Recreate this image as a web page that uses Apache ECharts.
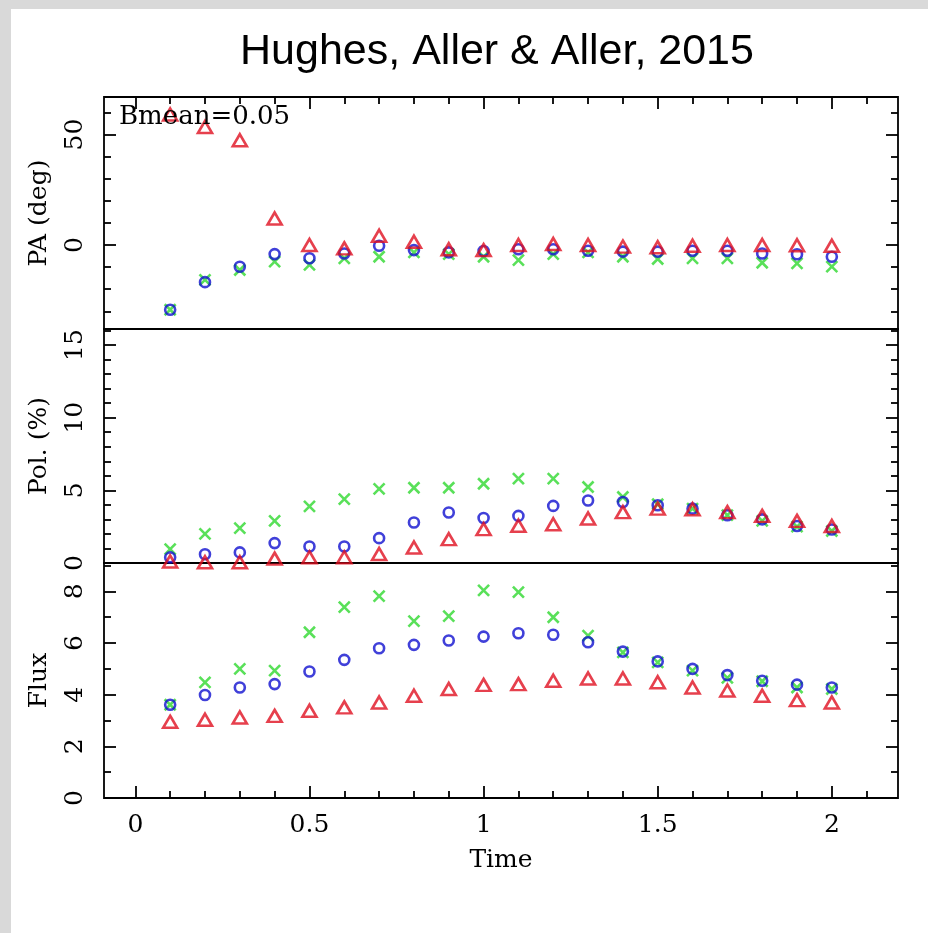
<!DOCTYPE html>
<html><head><meta charset="utf-8">
<script src="https://cdn.jsdelivr.net/npm/echarts@6/dist/echarts.min.js"></script>
<style>html,body{margin:0;padding:0;background:#fff;} #c{width:928px;height:933px;}</style>
</head><body><div id="c"></div>
<script>
// ---- data ----
const time = [0.1,0.2,0.3,0.4,0.5,0.6,0.7,0.8,0.9,1.0,1.1,1.2,1.3,1.4,1.5,1.6,1.7,1.8,1.9,2.0];

const paRed   = [59.1,53.4,47.4,12.0,0.0,-1.5,4.2,1.5,-1.9,-2.3,0.0,0.5,0.0,-0.7,-1.0,-0.3,0.0,0.0,-0.1,-0.3];
const paBlue  = [-29.3,-16.8,-9.8,-4.1,-6.0,-3.8,-0.3,-2.3,-3.3,-2.7,-1.9,-1.9,-2.6,-3.0,-3.0,-2.6,-2.6,-3.8,-4.2,-5.3];
const paGreen = [-29.3,-15.8,-11.3,-7.5,-9.0,-6.0,-5.3,-3.3,-4.1,-5.3,-6.8,-4.1,-3.3,-5.3,-6.3,-6.0,-6.0,-8.0,-8.3,-9.8];

const polRed   = [0.1,0.05,0.05,0.3,0.39,0.39,0.62,1.07,1.64,2.33,2.56,2.67,3.06,3.5,3.74,3.7,3.5,3.24,2.9,2.55];
const polBlue  = [0.39,0.6,0.73,1.37,1.14,1.14,1.71,2.79,3.47,3.1,3.24,3.93,4.3,4.2,3.97,3.74,3.29,3.0,2.55,2.3];
const polGreen = [0.96,2.0,2.4,2.9,3.9,4.4,5.1,5.18,5.18,5.45,5.8,5.8,5.23,4.54,4.04,3.74,3.29,2.9,2.5,2.2];

const fluxRed   = [2.95,3.03,3.12,3.18,3.38,3.51,3.7,3.96,4.22,4.38,4.41,4.54,4.63,4.63,4.48,4.28,4.16,3.96,3.79,3.7];
const fluxBlue  = [3.61,3.99,4.28,4.41,4.9,5.35,5.8,5.93,6.1,6.25,6.38,6.32,6.03,5.67,5.29,5.0,4.76,4.54,4.39,4.28];
const fluxGreen = [3.61,4.48,5.0,4.93,6.42,7.39,7.82,6.85,7.04,8.04,7.97,7.0,6.29,5.64,5.25,4.93,4.65,4.52,4.28,4.22];

// ---- ticks ----
const xMajorTicks = [0,0.5,1,1.5,2];
const xMinorTicks = [0.1,0.2,0.3,0.4,0.6,0.7,0.8,0.9,1.1,1.2,1.3,1.4,1.6,1.7,1.8,1.9,2.1];
const paMajorTicks = [0,50];
const paMinorTicks = [-30,-20,-10,10,20,30,40,60];
const polMajorTicks = [0,5,10,15];
const polMinorTicks = [1,2,3,4,6,7,8,9,11,12,13,14,16];
const fluxMajorTicks = [0,2,4,6,8];
const fluxMinorTicks = [1,3,5,7,9];

const titleText = 'Hughes, Aller & Aller, 2015';
const noteText = 'Bmean=0.05';
const xName = 'Time';
const yNames = ['PA (deg)', 'Pol. (%)', 'Flux'];

// ---- styling ----
const SERIF = 'DejaVu Serif';
const FS = 25;
const RED = '#e01020', BLUE = '#1010d0', GREEN = '#2fd82f';
const X_MIN = -0.09, X_MAX = 2.19;
const yRanges = [[-38, 67], [0, 16.1], [0, 9.1]];
const yMajor = [paMajorTicks, polMajorTicks, fluxMajorTicks];
const yMinor = [paMinorTicks, polMinorTicks, fluxMinorTicks];

const grids = [
  {left:104, right:30, top:97, height:232},
  {left:104, right:30, top:329, height:234},
  {left:104, right:30, top:563, height:235}
].map(g => Object.assign(g, {show:true, borderColor:'#000', borderWidth:1.8, backgroundColor:'transparent', containLabel:false}));

function tickStyle(len, vals){
  return {show:true, inside:true, length:len, customValues:vals, lineStyle:{color:'#000', width:1.8}};
}
function xAx(gi, pos, vals, len, labeled){
  const a = {type:'value', gridIndex:gi, position:pos, min:X_MIN, max:X_MAX,
    axisLine:{show:false, onZero:false}, splitLine:{show:false},
    axisTick: vals ? tickStyle(len, vals) : {show:false},
    axisLabel:{show:false}};
  if (labeled){
    a.axisLabel = {show:true, customValues:vals, formatter:v=>String(v), fontFamily:SERIF, fontSize:FS, color:'#000', margin:15};
    a.name = xName; a.nameLocation='middle'; a.nameGap=50;
    a.nameTextStyle = {fontFamily:SERIF, fontSize:FS, color:'#000'};
  }
  return a;
}
function yAx(gi, pos, vals, len, labeled, name){
  const r = yRanges[gi];
  const a = {type:'value', gridIndex:gi, position:pos, min:r[0], max:r[1],
    axisLine:{show:false, onZero:false}, splitLine:{show:false},
    axisTick: tickStyle(len, vals), axisLabel:{show:false}};
  if (labeled){
    a.axisLabel = {show:true, customValues:vals, rotate:90, formatter:v=>String(v), fontFamily:SERIF, fontSize:FS, color:'#000', margin:16};
    a.name = name; a.nameLocation='middle'; a.nameRotate=90; a.nameGap=52;
    a.nameTextStyle = {fontFamily:SERIF, fontSize:FS, color:'#000'};
  }
  return a;
}

const xAxes = [
  xAx(0,'top',xMajorTicks,12,false),
  xAx(0,'top',xMinorTicks,7,false),
  Object.assign(xAx(1,'bottom',null,0,false), {show:false}),
  xAx(2,'bottom',xMajorTicks,12,true),
  xAx(2,'bottom',xMinorTicks,7,false)
];
const yAxes = [];
for (let p=0;p<3;p++){
  yAxes.push(yAx(p,'left',yMajor[p],12,true,yNames[p]));
  yAxes.push(yAx(p,'left',yMinor[p],7,false));
  yAxes.push(yAx(p,'right',yMajor[p],12,false));
  yAxes.push(yAx(p,'right',yMinor[p],7,false));
}

const CROSS = 'path://M0,0L10,10M10,0L0,10';
function sc(vals, xi, yi, kind){
  const color = kind==='tri'?RED:(kind==='circ'?BLUE:GREEN);
  return {type:'scatter', xAxisIndex:xi, yAxisIndex:yi,
    data: time.map((t,i)=>[t, vals[i]]),
    symbol: kind==='tri'?'triangle':(kind==='circ'?'circle':CROSS),
    symbolSize: kind==='tri'?[14,12]:(kind==='circ'?10:11),
    itemStyle:{color:'transparent', borderColor:color, borderWidth:2.6},
    emphasis:{disabled:true}, silent:true, animation:false};
}
const panelX = [0,2,3];
const panelData = [[paRed,paBlue,paGreen],[polRed,polBlue,polGreen],[fluxRed,fluxBlue,fluxGreen]];
const series = [];
for (let p=0;p<3;p++){
  const [r,b,g] = panelData[p];
  series.push(sc(g, panelX[p], 4*p, 'cross'));
  series.push(sc(b, panelX[p], 4*p, 'circ'));
  series.push(sc(r, panelX[p], 4*p, 'tri'));
}

const chart = echarts.init(document.getElementById('c'), null, {renderer:'canvas'});
chart.setOption({
  animation:false,
  backgroundColor:'#fff',
  grid: grids,
  xAxis: xAxes,
  yAxis: yAxes,
  series: series,
  graphic: [
    {type:'rect', left:0, top:0, shape:{width:928, height:9}, style:{fill:'#d9d9d9'}, z:0},
    {type:'rect', left:0, top:0, shape:{width:11, height:933}, style:{fill:'#d9d9d9'}, z:0},
    {type:'text', x:497, y:52, style:{text:titleText, fontFamily:'Liberation Sans', fontSize:43, fill:'#000', textAlign:'center', textVerticalAlign:'middle'}},
    {type:'text', x:119, y:117, style:{text:noteText, fontFamily:SERIF, fontSize:26, fill:'#000', textAlign:'left', textVerticalAlign:'middle'}, z:10}
  ]
});
</script></body></html>
